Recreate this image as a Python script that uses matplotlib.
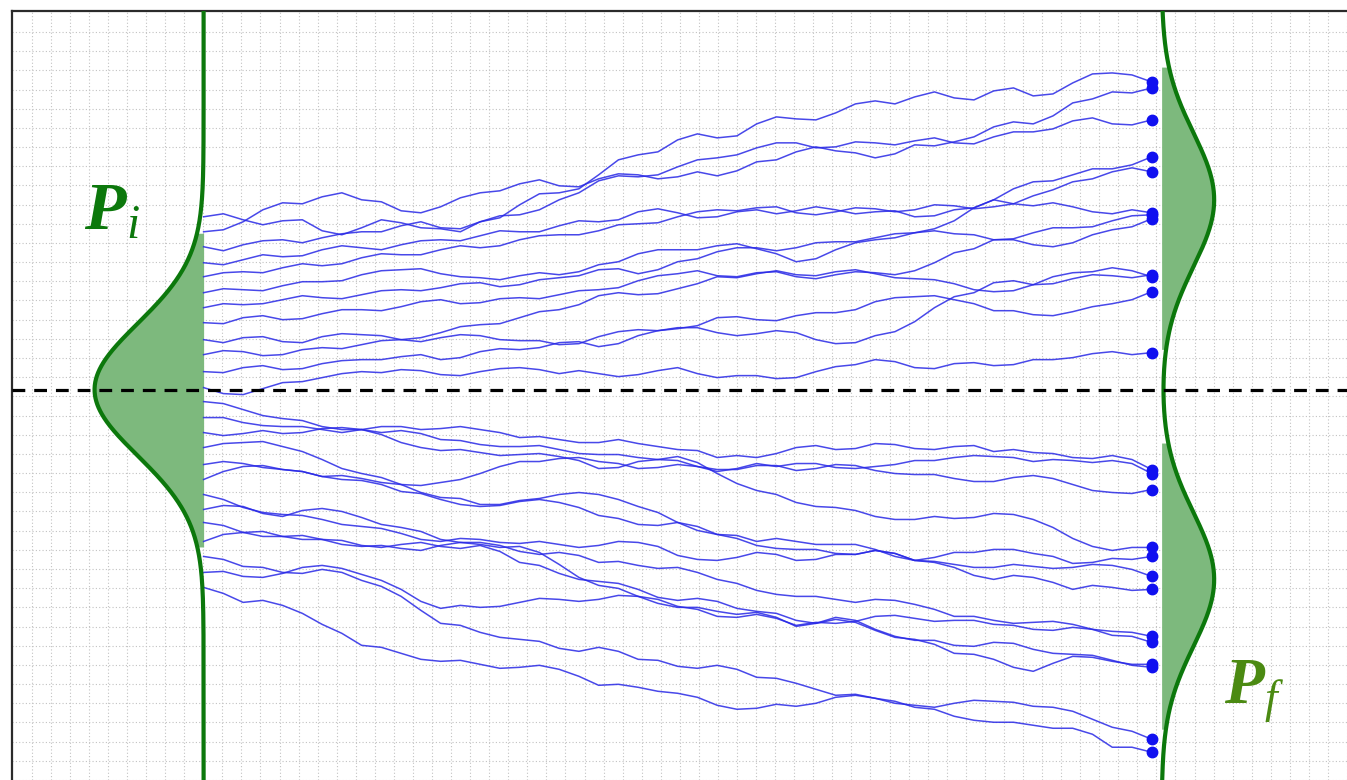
import numpy as np
import matplotlib.pyplot as plt

plt.rcParams['mathtext.fontset'] = 'custom'
plt.rcParams['mathtext.it'] = 'Liberation Serif:italic'
plt.rcParams['mathtext.bf'] = 'Liberation Serif:italic:bold'
plt.rcParams['mathtext.rm'] = 'Liberation Serif'

# time of each sample: 0 = left wall, 24 = right wall
steps = np.arange(49) * 0.5

# walker positions above the dashed midline (px)
up_a = [173, 176, 170, 165, 169, 170, 159, 155, 162, 170, 167, 162, 161, 158, 168, 172, 185, 196, 197, 201, 215, 230, 235, 238, 250, 256, 252, 254, 266, 273, 271, 270, 277, 286, 289, 286, 293, 298, 292, 290, 299, 302, 294, 296, 307, 316, 317, 315, 308]
up_b = [158, 160, 168, 180, 187, 186, 193, 197, 190, 188, 179, 177, 183, 192, 197, 199, 206, 210, 204, 203, 211, 216, 215, 211, 213, 218, 214, 219, 228, 230, 238, 243, 239, 237, 232, 236, 245, 244, 248, 253, 263, 268, 266, 274, 287, 291, 298, 297, 302]
up_c = [143, 139, 145, 149, 150, 147, 152, 156, 158, 158, 164, 168, 162, 161, 168, 174, 175, 180, 190, 197, 209, 214, 213, 215, 223, 230, 232, 235, 242, 247, 247, 242, 243, 248, 247, 245, 249, 252, 247, 246, 253, 258, 258, 261, 269, 272, 266, 265, 270]
up_d = [127, 125, 130, 135, 133, 134, 140, 144, 142, 140, 145, 149, 150, 149, 154, 159, 158, 158, 164, 169, 168, 170, 178, 181, 177, 172, 173, 178, 180, 176, 179, 183, 180, 176, 178, 179, 173, 174, 180, 182, 190, 201, 208, 209, 215, 221, 221, 225, 233]
up_e = [113, 117, 118, 117, 122, 126, 124, 126, 132, 136, 135, 135, 140, 144, 142, 144, 150, 154, 155, 155, 159, 165, 166, 167, 173, 178, 180, 179, 182, 183, 177, 175, 178, 182, 181, 178, 180, 185, 184, 181, 183, 186, 194, 200, 208, 211, 218, 222, 218]
up_f = [97, 101, 100, 99, 104, 108, 108, 109, 115, 119, 120, 121, 116, 113, 112, 110, 114, 117, 115, 118, 125, 128, 136, 140, 140, 140, 144, 146, 141, 136, 128, 131, 140, 147, 150, 152, 157, 159, 156, 155, 150, 151, 157, 162, 162, 163, 169, 174, 175]
up_g = [82, 86, 85, 86, 90, 94, 92, 91, 95, 99, 100, 99, 102, 106, 107, 103, 105, 110, 112, 114, 120, 121, 116, 120, 128, 131, 138, 142, 142, 139, 142, 147, 148, 148, 152, 156, 157, 161, 169, 182, 190, 186, 184, 187, 183, 178, 176, 180, 177]
up_h = [67, 66, 72, 74, 70, 71, 76, 80, 80, 79, 83, 88, 90, 86, 87, 91, 92, 91, 95, 99, 100, 102, 109, 114, 116, 119, 114, 113, 117, 118, 113, 111, 115, 118, 117, 115, 119, 127, 137, 141, 150, 150, 145, 143, 147, 155, 160, 163, 171]
up_i = [50, 47, 52, 53, 48, 47, 53, 56, 55, 54, 50, 48, 52, 55, 54, 50, 49, 49, 45, 46, 53, 58, 60, 59, 62, 62, 57, 54, 56, 59, 57, 50, 46, 47, 54, 58, 68, 82, 93, 97, 107, 109, 105, 106, 111, 115, 114, 112, 115]
up_j = [35, 39, 38, 34, 35, 40, 42, 41, 45, 49, 50, 52, 57, 63, 65, 66, 72, 78, 80, 85, 94, 97, 95, 96, 101, 106, 113, 112, 116, 119, 115, 114, 118, 120, 116, 112, 111, 110, 106, 100, 98, 99, 105, 113, 117, 118, 122, 119, 113]
up_k = [18, 17, 22, 24, 20, 21, 26, 29, 30, 30, 33, 35, 30, 32, 38, 41, 40, 42, 47, 48, 43, 46, 54, 59, 61, 64, 72, 73, 70, 69, 74, 77, 77, 80, 88, 92, 93, 94, 90, 86, 79, 79, 75, 74, 78, 83, 86, 90, 98]
up_l = [2, -4, -5, 1, 7, 8, 12, 16, 18, 17, 20, 19, 15, 14, 18, 21, 22, 20, 16, 19, 16, 13, 15, 19, 22, 16, 12, 14, 14, 11, 12, 18, 23, 25, 30, 28, 22, 21, 26, 27, 24, 25, 30, 30, 32, 36, 38, 35, 37]

dn_a = [-12, -14, -20, -26, -29, -31, -37, -40, -40, -37, -37, -40, -39, -37, -40, -43, -48, -47, -50, -53, -53, -50, -54, -57, -60, -61, -68, -66, -68, -64, -58, -56, -60, -59, -54, -55, -59, -60, -57, -56, -62, -60, -63, -64, -68, -69, -66, -70, -80]
dn_b = [-28, -28, -33, -36, -37, -37, -40, -43, -40, -45, -53, -58, -61, -60, -63, -66, -65, -64, -67, -71, -79, -78, -72, -70, -71, -77, -80, -80, -76, -76, -81, -79, -75, -76, -81, -84, -85, -85, -89, -92, -92, -88, -86, -89, -95, -101, -103, -104, -100]
dn_c = [-43, -46, -44, -41, -44, -43, -39, -38, -40, -43, -41, -44, -50, -51, -55, -57, -57, -56, -60, -64, -65, -65, -68, -70, -67, -73, -84, -94, -101, -105, -113, -117, -118, -121, -127, -130, -130, -127, -129, -128, -124, -125, -130, -138, -149, -157, -161, -158, -158]
dn_d = [-75, -72, -74, -78, -80, -82, -87, -86, -89, -93, -95, -96, -93, -90, -84, -77, -72, -72, -69, -68, -72, -74, -79, -78, -75, -77, -82, -79, -74, -77, -74, -74, -78, -79, -77, -75, -71, -71, -68, -66, -67, -68, -72, -70, -71, -73, -71, -74, -84]
dn_e = [-58, -54, -53, -52, -57, -62, -70, -79, -84, -88, -95, -103, -108, -109, -115, -115, -111, -109, -105, -103, -105, -110, -117, -123, -133, -141, -145, -146, -152, -149, -152, -155, -155, -155, -160, -167, -171, -173, -178, -186, -190, -186, -188, -193, -200, -196, -198, -201, -200]
dn_f = [-90, -82, -77, -76, -80, -82, -87, -90, -91, -95, -102, -104, -110, -115, -117, -116, -112, -110, -113, -118, -126, -129, -135, -136, -133, -137, -145, -149, -156, -159, -160, -160, -164, -165, -161, -164, -171, -168, -163, -163, -160, -160, -164, -167, -174, -173, -169, -170, -167]
dn_g = [-105, -110, -118, -123, -125, -126, -130, -135, -137, -139, -144, -150, -152, -149, -150, -153, -154, -152, -155, -158, -156, -152, -153, -157, -166, -170, -171, -168, -163, -165, -171, -170, -165, -165, -161, -164, -171, -172, -175, -178, -178, -175, -177, -179, -178, -175, -176, -180, -187]
dn_h = [-120, -116, -117, -124, -127, -121, -119, -122, -128, -135, -138, -142, -150, -153, -153, -156, -162, -165, -163, -166, -173, -172, -176, -179, -178, -183, -190, -194, -201, -205, -207, -207, -210, -213, -210, -211, -215, -220, -227, -227, -231, -234, -233, -232, -235, -240, -242, -243, -247]
dn_i = [-133, -136, -143, -147, -147, -146, -150, -155, -157, -156, -159, -161, -156, -153, -155, -158, -157, -163, -175, -188, -196, -199, -207, -214, -218, -218, -222, -225, -223, -228, -237, -234, -228, -231, -240, -247, -251, -251, -256, -257, -253, -254, -260, -264, -265, -266, -271, -276, -278]
dn_j = [-152, -145, -143, -142, -147, -150, -150, -151, -156, -158, -155, -153, -157, -159, -156, -162, -173, -176, -184, -190, -192, -194, -200, -208, -211, -209, -212, -219, -222, -224, -231, -234, -230, -233, -241, -248, -250, -255, -264, -265, -270, -278, -282, -274, -267, -268, -272, -275, -275]
dn_k = [-167, -170, -177, -178, -183, -184, -180, -183, -191, -197, -207, -221, -234, -236, -243, -248, -250, -252, -259, -262, -258, -262, -270, -271, -277, -279, -276, -280, -288, -289, -294, -300, -306, -305, -309, -314, -316, -318, -314, -311, -312, -313, -317, -318, -322, -330, -338, -342, -350]
dn_l = [-183, -182, -187, -188, -184, -178, -176, -179, -185, -191, -200, -212, -219, -216, -218, -217, -213, -209, -210, -212, -210, -206, -207, -210, -217, -220, -227, -228, -225, -229, -236, -233, -234, -232, -227, -226, -229, -232, -231, -231, -235, -236, -240, -241, -238, -240, -246, -247, -253]
dn_m = [-198, -204, -213, -211, -216, -224, -235, -244, -256, -258, -264, -270, -272, -271, -275, -279, -278, -276, -280, -287, -296, -295, -298, -302, -304, -308, -316, -320, -319, -315, -317, -314, -308, -306, -309, -312, -318, -320, -327, -331, -333, -333, -336, -339, -339, -345, -358, -358, -363]

walkers = [up_a, up_b, up_c, up_d, up_e, up_f, up_g, up_h, up_i, up_j, up_k, up_l,
           dn_a, dn_b, dn_c, dn_d, dn_e, dn_f, dn_g, dn_h, dn_i, dn_j, dn_k, dn_l, dn_m]

# initial density (one bump) and final density (two bumps)
pi_center, pi_width, pi_height = 0, 66, 2.76
pi_fill = (-158, 157)
pf_centers = [190, -190]
pf_width, pf_height = 67, 1.33
pf_fill = [(40, 323), (-340, -53)]
right_wall = 24.25

dark_green = '#0c780c'
olive = '#4b8a12'
fill_green = '#7db97d'
blue = '#2828e6'

fig = plt.figure(figsize=(13.47, 7.8), dpi=100)
ax = fig.add_axes([12 / 1347, 0, 1 - 12 / 1347, 769 / 780])
ax.set_xlim(-4.85, 28.7)
ax.set_ylim(-390, 379)

# graph-paper grid
ax.set_xticks(np.arange(-4.35, 29, 0.4825))
ax.set_yticks(np.arange(358, -400, -19.2))
ax.tick_params(length=0, labelbottom=False, labelleft=False)
ax.grid(True, color='#c2c2c2', lw=0.8, ls=(0, (1, 2)))
ax.set_axisbelow(True)
for s in ['right', 'bottom']:
    ax.spines[s].set_visible(False)
for s in ['left', 'top']:
    ax.spines[s].set_color('#2b2b2b')
    ax.spines[s].set_linewidth(1.6)

ys = np.linspace(-390, 380, 1200)

# P_i on the left wall
xl = -pi_height * np.exp(-(ys - pi_center) ** 2 / (2 * pi_width ** 2))
m = (ys >= pi_fill[0]) & (ys <= pi_fill[1])
ax.fill_betweenx(ys[m], xl[m], 0, color=fill_green, lw=0, zorder=2)
ax.plot(xl, ys, color=dark_green, lw=3, zorder=4)

# P_f on the right wall
xr = right_wall + pf_height * sum(np.exp(-(ys - c) ** 2 / (2 * pf_width ** 2)) for c in pf_centers)
for lo, hi in pf_fill:
    m = (ys >= lo) & (ys <= hi)
    ax.fill_betweenx(ys[m], right_wall, xr[m], color=fill_green, lw=0, zorder=2)
ax.plot(xr, ys, color=dark_green, lw=3, zorder=4)

ax.axhline(0, color='black', lw=2.3, ls=(0, (4, 2.8)), zorder=5)

for w in walkers:
    ax.plot(steps, w, color=blue, lw=1.1, alpha=0.85, zorder=3)
    ax.plot(steps[-1], w[-1], 'o', color='#1010f0', ms=7.5, zorder=6)

ax.text(-3.02, 160, r'$\mathbf{P}_{\mathit{i}}$', fontsize=49, color=dark_green, va='baseline')
ax.text(25.84, -315, r'$\mathbf{P}_{\mathit{f}}$', fontsize=47, color=olive, va='baseline')

fig.savefig('out.png', dpi=100, facecolor='white')
